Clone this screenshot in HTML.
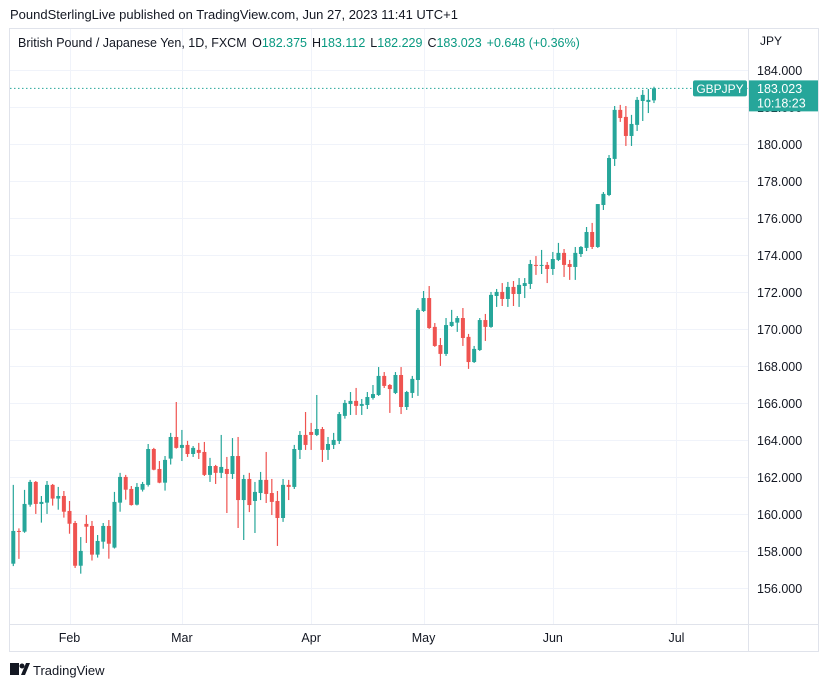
<!DOCTYPE html>
<html><head><meta charset="utf-8"><style>
html,body{margin:0;padding:0;background:#fff;}
body{width:829px;height:687px;overflow:hidden;font-family:"Liberation Sans",sans-serif;}
svg text{font-family:"Liberation Sans",sans-serif;}
</style></head><body>
<svg id="chart" width="829" height="687" xmlns="http://www.w3.org/2000/svg">
<text x="10" y="19" font-size="13" fill="#131722">PoundSterlingLive published on TradingView.com, Jun 27, 2023 11:41 UTC+1</text>
<rect x="9.5" y="28.5" width="809" height="623" fill="none" stroke="#e0e3eb"/>
<g id="grid"></g>
<line x1="748.5" y1="28" x2="748.5" y2="652" stroke="#e0e3eb"/>
<line x1="9" y1="624.5" x2="819" y2="624.5" stroke="#e0e3eb"/>
<g id="candles"></g>
<g id="yaxis"></g>
<g id="xaxis"></g>
<text x="760" y="45" font-size="12" fill="#131722">JPY</text>
<text x="18" y="47" font-size="12.5" fill="#131722">British Pound / Japanese Yen, 1D, FXCM <tspan dx="2">O</tspan><tspan fill="#089981">182.375</tspan><tspan dx="5">H</tspan><tspan fill="#089981">183.112</tspan><tspan dx="5">L</tspan><tspan fill="#089981">182.229</tspan><tspan dx="5">C</tspan><tspan fill="#089981">183.023</tspan><tspan dx="5" fill="#089981">+0.648 (+0.36%)</tspan></text>
<g id="lastprice"></g>
<g>
<rect x="10" y="663" width="9" height="12" fill="#131722"/>
<circle cx="22" cy="666" r="2.5" fill="#131722"/>
<polygon points="21,675 26,663 30,663 25,675" fill="#131722"/>
<text x="33" y="675" font-size="13" fill="#131722">TradingView</text>
</g>
</svg>
<script>
const opens=[157.33,159.10,159.06,160.52,161.75,160.56,160.63,161.59,160.85,160.99,160.18,159.53,157.22,159.48,159.37,157.82,158.52,159.37,158.20,160.63,162.02,161.37,160.52,161.33,161.59,163.53,162.45,161.71,163.01,164.18,163.59,163.75,163.26,163.48,163.37,162.13,162.61,162.24,162.45,162.18,163.15,160.77,161.91,160.72,161.15,161.86,161.15,160.72,159.80,161.59,161.48,163.48,164.29,164.45,164.29,164.61,163.48,163.75,163.96,165.32,165.96,166.13,165.86,165.91,166.29,166.45,167.48,166.99,166.56,167.53,165.80,166.56,167.26,170.99,171.69,170.13,169.15,168.67,170.18,170.36,170.61,169.59,168.23,168.88,170.50,170.13,171.80,172.02,171.64,172.29,171.91,172.34,172.45,173.48,173.44,173.48,173.26,173.75,174.13,173.53,173.37,174.07,174.40,175.26,174.45,176.72,177.26,179.21,181.86,181.48,180.45,181.05,182.34,182.29,182.375];
const highs=[161.59,159.24,161.32,161.86,161.80,160.99,161.80,161.64,161.48,161.26,160.72,159.64,158.77,159.96,159.64,158.88,159.53,159.69,161.21,162.24,162.13,161.53,161.69,161.75,163.80,163.59,162.88,163.15,164.40,166.07,164.56,163.97,163.69,163.86,163.91,163.05,162.67,164.29,163.10,164.12,164.18,162.13,162.24,161.75,162.29,163.37,161.91,161.26,161.91,161.86,163.75,164.50,165.53,164.94,166.45,164.72,164.18,164.40,165.53,166.18,166.61,166.83,166.23,166.61,166.99,167.96,167.69,167.04,167.69,167.96,166.67,167.48,171.15,172.07,172.34,170.34,169.53,170.61,171.05,170.72,171.15,169.75,169.10,170.61,170.83,172.02,172.18,172.50,172.56,172.61,172.77,172.77,173.75,173.96,174.29,173.64,174.18,174.67,174.34,173.75,174.45,174.50,175.53,175.75,176.77,177.42,179.42,182.07,182.13,182.07,181.59,182.56,182.94,182.99,183.112];
const lows=[157.20,157.59,159.00,160.41,160.02,159.55,160.02,160.47,160.25,159.82,158.95,157.10,156.79,158.45,157.50,157.66,158.14,157.60,158.15,160.14,160.79,160.47,160.48,161.23,161.50,162.38,161.68,161.28,162.69,163.55,162.88,163.10,163.10,162.99,162.07,161.75,161.64,161.96,160.07,161.91,159.26,158.61,160.12,158.99,160.77,160.61,159.96,158.29,159.59,160.77,161.37,162.99,163.48,163.48,164.23,162.83,162.94,163.53,163.80,165.17,165.37,165.37,165.37,165.69,166.20,166.40,166.83,165.48,166.50,165.42,165.64,166.29,166.40,170.94,170.02,169.05,168.02,168.56,170.13,169.86,169.10,167.86,168.18,168.83,169.37,170.08,171.21,171.26,171.21,171.26,171.21,171.69,172.18,172.94,172.99,172.50,172.94,173.69,172.83,172.67,172.67,173.91,174.23,174.34,174.40,176.45,177.20,178.83,181.21,179.91,179.91,180.72,181.26,181.69,182.229];
const closes=[159.10,159.06,160.56,161.75,160.56,160.67,161.59,160.85,160.99,160.14,159.49,157.22,158.02,159.33,157.82,158.56,159.37,158.41,160.67,162.02,161.33,160.50,161.48,161.64,163.53,162.41,161.71,162.94,164.18,163.59,163.75,163.26,163.59,163.32,162.13,162.61,162.24,162.56,162.18,163.15,160.77,161.91,160.50,161.21,161.86,161.10,160.67,159.80,161.59,161.48,163.53,164.29,163.75,164.29,164.61,163.48,163.80,164.02,165.42,166.02,166.13,165.86,165.96,166.34,166.50,167.48,166.94,166.77,167.53,165.80,166.61,167.32,171.05,171.69,170.07,169.10,168.67,170.23,170.40,170.61,169.53,168.23,168.94,170.50,170.13,171.86,172.02,171.64,172.29,171.91,172.40,172.50,173.53,173.44,173.48,173.26,173.80,174.13,173.48,173.37,174.13,174.45,175.26,174.45,176.77,177.32,179.26,181.86,181.42,180.45,181.10,182.40,182.67,182.40,183.023];
const priceTicks=[184,182,180,178,176,174,172,170,168,166,164,162,160,158,156];
const monthLabels=["Feb","Mar","Apr","May","Jun","Jul"];
const monthIndex=[10,30,53,73,96,118];
const lastPrice=183.023;

const NS="http://www.w3.org/2000/svg";
const yOf=p=>70.3+(184-p)*18.5;
const xOf=i=>13.3+i*5.62;
function mk(tag,attrs,parent){const e=document.createElementNS(NS,tag);for(const k in attrs)e.setAttribute(k,attrs[k]);parent.appendChild(e);return e;}
const grid=document.getElementById('grid'),cg=document.getElementById('candles'),ya=document.getElementById('yaxis'),xa=document.getElementById('xaxis'),lp=document.getElementById('lastprice');
priceTicks.forEach(p=>{
  const y=Math.round(yOf(p))+0.5;
  const g=mk('line',{x1:10,x2:748,y1:y,y2:y,stroke:'#f0f3fa'},grid);
  
  
  const t=mk('text',{x:757,y:yOf(p)+4.5,'font-size':12.5,fill:'#131722'},ya);
  t.textContent=p.toFixed(3);
  
  
});
monthLabels.forEach((m,k)=>{
  const x=Math.round(xOf(monthIndex[k]))+0.5;
  const g=mk('line',{x1:x,x2:x,y1:29,y2:624,stroke:'#f0f3fa'},grid);
  
  
  const t=mk('text',{x:xOf(monthIndex[k]),y:642,'font-size':12.5,fill:'#131722','text-anchor':'middle'},xa);
  t.textContent=m;
  
  
});
closes.forEach((c,i)=>{
  const o=opens[i],up=c>=o,col=up?'#26a69a':'#ef5350';
  const x=xOf(i);
  const g=mk('g',{},cg);
  
  
  mk('line',{x1:x,x2:x,y1:yOf(highs[i]),y2:yOf(lows[i]),stroke:col,'stroke-width':1.2},g);
  const top=yOf(Math.max(o,c)),bot=yOf(Math.min(o,c));
  mk('rect',{x:x-2,y:top,width:4,height:Math.max(1,bot-top),fill:col},g);
});
const ly=yOf(lastPrice);
const dl=mk('line',{x1:10,x2:748,y1:ly,y2:ly,stroke:'#26a69a','stroke-dasharray':'1.5,2.5','stroke-width':1},lp);


const sb=mk('rect',{x:693,y:ly-8,width:54,height:16,fill:'#26a69a',rx:2},lp);


const st=mk('text',{x:720,y:ly+4.5,'font-size':12,fill:'#fff','text-anchor':'middle'},lp);
st.textContent='GBPJPY';


const pb=mk('rect',{x:749,y:ly-8,width:69,height:31,fill:'#26a69a'},lp);


const pt=mk('text',{x:757,y:ly+4.5,'font-size':12.5,fill:'#fff'},lp);
pt.textContent=lastPrice.toFixed(3);


const ct=mk('text',{x:757,y:ly+19,'font-size':12.5,fill:'#fff'},lp);
ct.textContent='10:18:23';


</script>
</body></html>
